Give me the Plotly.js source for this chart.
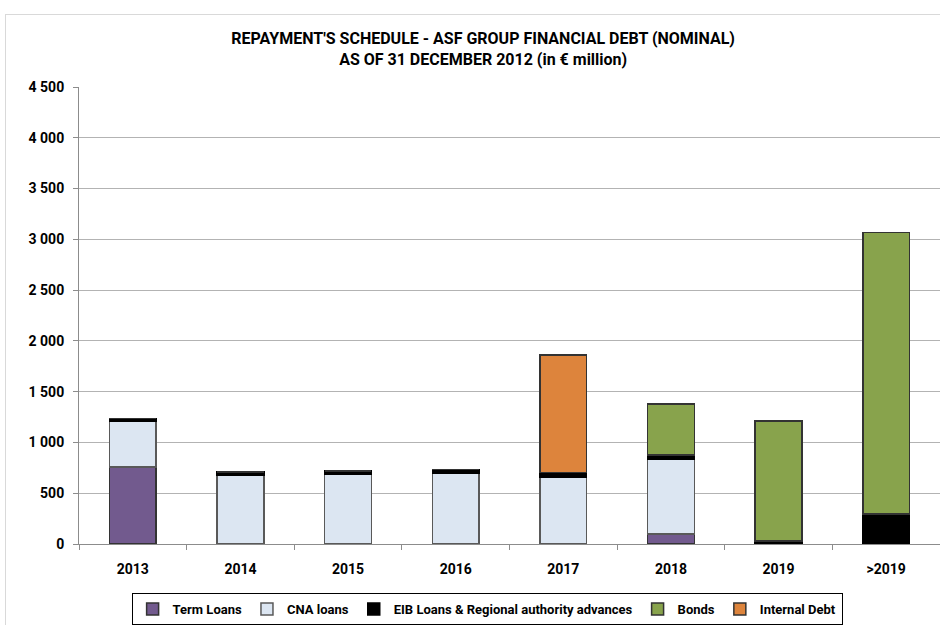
<!DOCTYPE html>
<html>
<head>
<meta charset="utf-8">
<script src="https://cdn.plot.ly/plotly-3.0.1.min.js"></script>
<style>
html,body{margin:0;padding:0;background:#fff;}
#wrap{position:relative;width:940px;height:625px;}
#frame{position:absolute;left:5px;top:14px;width:940px;height:620px;border:1px solid #d9d9d9;box-sizing:border-box;pointer-events:none;}
#chart{position:absolute;left:0;top:0;width:940px;height:625px;}
</style>
</head>
<body>
<div id="wrap"><div id="frame"></div><div id="chart"></div></div>
<script>
const categories = ["2013","2014","2015","2016","2017","2018","2019",">2019"];
const termLoans    = [760, 0, 0, 0, 0, 100, 0, 0];
const cnaLoans     = [450, 675, 685, 695, 660, 735, 0, 0];
const eibLoans     = [25, 35, 35, 40, 45, 40, 30, 295];
const bonds        = [0, 0, 0, 0, 0, 505, 1180, 2770];
const internalDebt = [0, 0, 0, 0, 1155, 0, 0, 0];
const yTicks = [0,500,1000,1500,2000,2500,3000,3500,4000,4500];

const FONT = "Roboto, 'Liberation Sans', sans-serif";
function tr(name, vals, fill, line){
  return {type:'bar', name:name, x:categories, y:vals,
    marker:{color:fill, line:{color:line, width:1.5}}, hoverinfo:'y+name'};
}
const data = [
  tr('Term Loans', termLoans, '#725a8e', '#333333'),
  tr('CNA loans', cnaLoans, '#dce6f2', '#595959'),
  tr('EIB Loans & Regional authority advances', eibLoans, '#000000', '#000000'),
  tr('Bonds', bonds, '#88a34c', '#333333'),
  tr('Internal Debt', internalDebt, '#dd843c', '#333333')
];
const layout = {
  width:940, height:625,
  margin:{l:79, r:0, t:87, b:77},
  barmode:'stack', bargap:0.565,
  separators:'. ',
  paper_bgcolor:'rgba(0,0,0,0)', plot_bgcolor:'#fff',
  font:{family:FONT, color:'#000'},
  title:{text:"<b>REPAYMENT'S SCHEDULE - ASF GROUP FINANCIAL DEBT (NOMINAL)</b><br><b>AS OF 31 DECEMBER 2012 (in € million)</b>",
    font:{family:FONT, size:16, color:'#000'}, x:0.514, xanchor:'center', y:0.93, yanchor:'top', yref:'container'},
  xaxis:{type:'category', showline:true, linecolor:'#8c8c8c', linewidth:1,
    ticks:'outside', tickson:'boundaries', ticklen:5, tickcolor:'#8c8c8c', ticklabelstandoff:12,
    tickfont:{family:FONT, size:14, color:'#000', weight:'bold'}, showgrid:false, fixedrange:true},
  yaxis:{range:[0,4500], tickvals:yTicks, ticktext:yTicks.map(v=>'<b>'+v.toLocaleString('fr-FR').replace(/\u202f|\u00a0/g,' ')+'</b>'),
    showline:true, linecolor:'#8c8c8c', linewidth:1, ticks:'outside', ticklen:5, tickcolor:'#8c8c8c', ticklabelstandoff:6,
    gridcolor:'#b3b3b3', gridwidth:1, zeroline:false,
    tickfont:{family:FONT, size:14, color:'#000'}, fixedrange:true},
  legend:{orientation:'h', x:0.474, xanchor:'center', y:-0.108, yanchor:'top',
    bordercolor:'#000', borderwidth:1, bgcolor:'#fff',
    font:{family:FONT, size:13, color:'#000', weight:'bold'}, traceorder:'normal',
    itemwidth:30, tracegroupgap:0},
  showlegend:true
};
Plotly.newPlot('chart', data, layout, {displayModeBar:false, staticPlot:true});
</script>
</body>
</html>
